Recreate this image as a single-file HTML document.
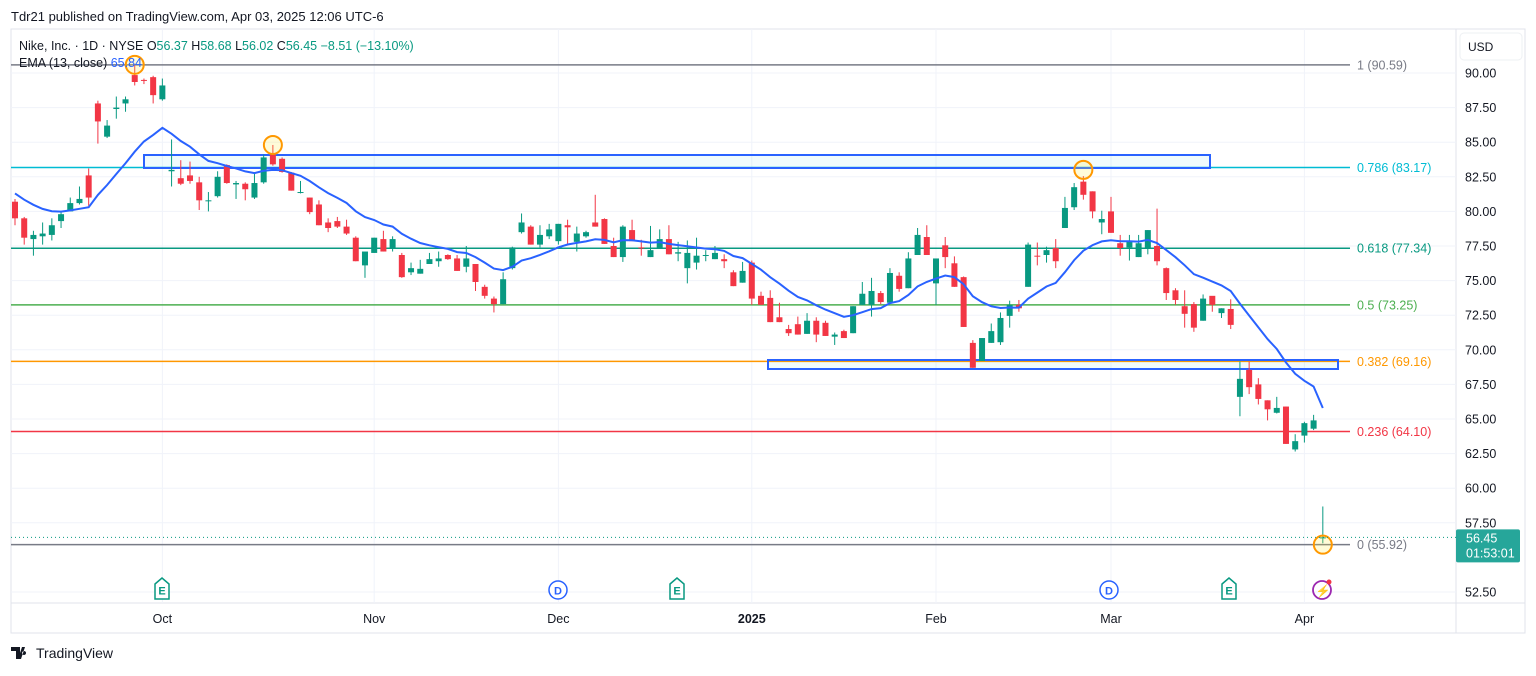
<!DOCTYPE html>
<html><head><meta charset="utf-8">
<style>
body{margin:0;background:#fff;width:1536px;height:671px;overflow:hidden;font-family:"Liberation Sans",sans-serif;}
svg text{font-family:"Liberation Sans",sans-serif;}
</style></head>
<body>
<svg id="chart" width="1536" height="671" viewBox="0 0 1536 671" xmlns="http://www.w3.org/2000/svg">
<text x="11" y="21" font-size="13" fill="#131722">Tdr21 published on TradingView.com, Apr 03, 2025 12:06 UTC-6</text>
<rect x="11" y="29" width="1514" height="604" fill="none" stroke="#e0e3eb"/>
<line x1="1456" y1="29" x2="1456" y2="633" stroke="#e0e3eb"/>
<line x1="11" y1="603" x2="1525" y2="603" stroke="#e0e3eb"/>
<g id="grid"></g>
<g id="fib"></g>
<g id="boxes"></g>
<g id="candles"></g>
<g id="ema"></g>
<g id="marks"></g>
<g id="axis"></g>
<rect x="1460" y="33" width="62" height="27" rx="4" fill="#fff" stroke="#eef0f3"/>
<text x="1468" y="51" font-size="12" fill="#131722">USD</text>
<text x="19" y="50" font-size="12.5" fill="#131722">Nike, Inc. · 1D · NYSE <tspan>O</tspan><tspan fill="#089981">56.37</tspan> H<tspan fill="#089981">58.68</tspan> L<tspan fill="#089981">56.02</tspan> C<tspan fill="#089981">56.45</tspan> <tspan fill="#089981">−8.51 (−13.10%)</tspan></text>
<text x="19" y="67" font-size="12.5" fill="#131722">EMA (13, close) <tspan fill="#2962ff">65.84</tspan></text>
<g>
<path d="M11 647h9v12h-4v-8h-5z M22 647l3 0-4 12h-3z M24 651a2 2 0 1 0 0.1 0z" fill="#131722"/>
<text x="36" y="658" font-size="14" fill="#131722">TradingView</text>
</g>
</svg>
<script>
const opens=[80.7,79.5,78.0,78.2,78.3,79.3,80.0,80.6,82.6,87.8,85.4,87.4,87.8,89.85,89.5,89.7,88.1,82.9,82.4,82.6,82.1,80.75,81.1,83.35,81.95,82.0,81.0,82.1,84.1,83.8,82.8,81.35,81.0,80.5,79.2,79.3,78.9,78.1,76.1,77.0,78.0,77.3,76.85,75.6,75.5,76.2,76.4,76.85,76.6,76.0,76.2,74.55,73.7,73.3,75.9,78.5,78.9,77.6,78.2,77.85,79.0,77.8,78.2,79.2,79.45,77.5,76.7,78.65,77.4,76.7,77.35,78.0,76.95,75.9,76.3,76.8,76.55,76.55,75.6,74.85,76.3,73.9,73.75,72.35,71.5,71.85,71.15,72.1,71.95,70.95,71.35,71.2,73.25,73.25,74.1,73.4,75.35,74.45,76.85,78.15,74.8,77.55,76.25,75.25,70.5,69.2,70.5,70.55,72.45,73.25,74.55,76.8,76.85,77.35,78.8,80.3,82.15,81.45,79.2,80.0,77.7,77.4,76.7,77.35,77.5,75.9,74.3,73.15,73.3,72.1,73.9,72.65,72.95,66.6,68.55,67.5,66.35,65.45,65.9,62.8,63.8,64.3,56.37];
const highs=[80.9,79.6,78.6,79.2,79.5,80.0,81.0,81.8,83.1,88.0,86.6,88.3,88.3,90.59,89.6,89.8,89.6,85.2,83.7,83.6,82.5,81.4,82.9,83.4,82.2,82.1,82.8,84.1,84.8,83.9,82.85,82.2,81.0,80.8,79.5,79.6,79.4,78.2,76.2,78.1,78.6,78.2,77.0,76.3,76.5,77.0,77.1,76.9,76.85,77.5,76.2,74.7,73.85,75.6,77.45,79.85,79.0,79.0,79.1,79.1,79.4,78.9,78.6,81.2,79.5,78.1,79.0,79.4,77.95,78.95,78.7,79.0,77.8,77.9,78.1,77.2,77.5,76.9,75.75,76.35,76.45,74.2,74.3,73.4,71.8,72.4,72.65,72.35,72.1,71.25,71.45,73.15,74.9,75.2,74.25,75.9,75.6,77.05,78.8,79.0,76.6,78.15,76.75,75.3,70.7,70.85,71.9,72.7,73.55,73.6,77.75,77.75,77.45,78.0,81.05,82.05,82.55,81.45,80.05,81.05,78.3,78.3,78.3,78.65,80.2,75.95,74.45,74.3,73.45,74.0,73.55,73.0,73.65,69.15,69.15,67.95,66.35,66.6,65.9,63.9,64.8,65.3,58.68];
const lows=[79.0,77.6,76.8,77.6,77.9,78.8,80.0,80.5,80.4,84.9,85.3,86.7,87.2,89.1,89.2,87.8,88.0,81.8,81.9,82.0,80.1,80.0,81.0,82.0,80.9,80.8,80.9,82.0,83.3,82.8,81.5,81.3,79.8,79.0,78.5,78.8,78.3,76.4,75.2,77.0,77.1,77.1,75.2,75.4,75.5,76.2,76.0,76.5,75.7,75.6,74.25,73.7,72.7,73.3,75.8,78.4,77.6,77.4,78.0,77.6,77.6,77.1,78.1,78.9,77.65,76.7,76.35,77.85,76.8,76.7,77.35,76.9,76.4,74.8,75.8,76.4,76.55,75.9,74.6,74.85,73.25,73.25,72.0,72.0,71.0,71.1,71.15,70.55,71.0,70.35,70.85,71.2,73.25,72.4,73.3,73.3,74.2,74.45,76.85,76.85,73.25,75.9,74.55,71.65,68.7,69.2,70.5,70.35,71.6,72.75,74.55,76.1,76.3,75.9,78.8,80.1,80.85,79.5,78.35,78.45,76.8,76.45,76.7,76.9,76.1,73.6,73.25,71.6,71.3,72.1,72.75,72.3,71.5,65.2,66.8,66.05,64.9,65.4,63.2,62.65,63.3,64.2,56.02];
const closes=[79.5,78.1,78.3,78.4,79.0,79.8,80.6,80.9,81.0,86.5,86.2,87.5,88.1,89.35,89.45,88.4,89.1,83.0,82.0,82.2,80.8,80.8,82.5,82.05,82.05,81.6,82.05,83.9,83.4,82.85,81.5,81.4,79.95,79.0,78.8,78.9,78.4,76.4,77.1,78.1,77.1,78.0,75.25,75.9,75.85,76.55,76.6,76.55,75.7,76.6,74.9,73.9,73.3,75.1,77.4,79.2,77.6,78.3,78.7,79.1,78.85,78.4,78.5,78.9,77.65,76.7,78.9,77.85,77.35,77.2,78.0,76.9,77.05,77.0,76.8,76.85,77.0,76.4,74.6,75.7,73.7,73.25,72.0,72.0,71.2,71.1,72.1,71.1,71.0,71.1,70.85,73.15,74.05,74.25,73.45,75.55,74.4,76.6,78.3,76.85,76.6,76.7,74.55,71.65,68.7,70.85,71.35,72.3,73.25,73.0,77.6,76.75,77.2,76.4,80.25,81.75,81.2,80.0,79.45,78.45,77.35,77.85,77.7,78.65,76.4,74.1,73.6,72.6,71.6,73.7,73.25,73.0,71.8,67.9,67.3,66.45,65.7,65.8,63.2,63.4,64.7,64.9,56.45];
const priceTicks=[90,87.5,85,82.5,80,77.5,75,72.5,70,67.5,65,62.5,60,57.5,52.5];
const monthLabels=["Oct","Nov","Dec","2025","Feb","Mar","Apr"];
const monthIndex=[16,39,59,80,100,119,140];
const fibRatios=["1","0.786","0.618","0.5","0.382","0.236","0"];
const fibPrices=[90.59,83.17,77.34,73.25,69.16,64.10,55.92];
const fibColors=["#787b86","#00bcd4","#089981","#4caf50","#ff9800","#f23645","#787b86"];
const emaSeed=81.6;

const NS="http://www.w3.org/2000/svg";
const y=p=>73+(90-p)*13.84;
const x=i=>15+i*9.21;
function mk(tag,parent,attrs){const e=document.createElementNS(NS,tag);for(const k in attrs)e.setAttribute(k,attrs[k]);document.getElementById(parent).appendChild(e);return e;}

priceTicks.forEach(p=>{
  const g=mk('line','grid',{x1:11,x2:1456,y1:y(p),y2:y(p),stroke:'#f0f3fa'});
  
  
  const t=mk('text','axis',{x:1465,y:y(p)+4.5,'font-size':12.5,fill:'#131722'});
  
  
  t.textContent=p.toFixed(2);
});
monthLabels.forEach((m,k)=>{
  const xx=x(monthIndex[k]);
  const g=mk('line','grid',{x1:xx,x2:xx,y1:29,y2:603,stroke:'#f0f3fa'});
  
  
  const t=mk('text','axis',{x:xx,y:623,'font-size':12.5,fill:'#131722','text-anchor':'middle','font-weight':m==='2025'?'bold':'normal'});
  
  
  t.textContent=m;
});
fibPrices.forEach((p,k)=>{
  const l=mk('line','fib',{x1:11,x2:1350,y1:y(p),y2:y(p),stroke:fibColors[k],'stroke-width':1.5});
  
  
  const t=mk('text','fib',{x:1357,y:y(p)+4.5,'font-size':12.5,fill:fibColors[k]==='#787b86'?'#787b86':fibColors[k]});
  
  
  t.textContent=fibRatios[k]+' ('+p.toFixed(2)+')';
});
// zone boxes
const b1=mk('rect','boxes',{x:144,y:155,width:1066,height:13,fill:'rgba(0,188,212,0.06)',stroke:'#2962ff','stroke-width':2});


const b2=mk('rect','boxes',{x:768,y:360,width:570,height:9,fill:'rgba(0,188,212,0.06)',stroke:'#2962ff','stroke-width':2});



opens.forEach((o,i)=>{
  const c=closes[i],up=c>=o,col=up?'#089981':'#f23645';
  const w=mk('line','candles',{x1:x(i),x2:x(i),y1:y(highs[i]),y2:y(lows[i]),stroke:col,'stroke-width':1});
  
  
  const top=y(Math.max(o,c)),h=Math.max(1,Math.abs(y(o)-y(c)));
  const r=mk('rect','candles',{x:x(i)-3,y:top,width:6,height:h,fill:col});
  
  
});
let e=emaSeed,pts=[];const a=2/14;
closes.forEach((c,i)=>{e=c*a+e*(1-a);pts.push(x(i).toFixed(1)+','+y(e).toFixed(1));});
const pl=mk('polyline','ema',{points:pts.join(' '),fill:'none',stroke:'#2962ff','stroke-width':2});



// pivot circles
[[13,90.59],[28,84.8],[116,83.0],[142,55.92]].forEach(([i,p])=>{
  const c=mk('circle','marks',{cx:x(i),cy:y(p),r:9,fill:'rgba(255,235,59,0.2)',stroke:'#ff9800','stroke-width':2});
  
  
});
// current price line & label
const cp=closes[closes.length-1];
const dl=mk('line','marks',{x1:11,x2:1456,y1:y(cp),y2:y(cp),stroke:'#089981','stroke-dasharray':'1,3'});


const lb=mk('rect','marks',{x:1456,y:y(cp)-8,width:64,height:33,rx:2,fill:'#26a69a'});


const t1=mk('text','marks',{x:1466,y:y(cp)+5,'font-size':12.5,fill:'#fff'});


t1.textContent=cp.toFixed(2);
const t2=mk('text','marks',{x:1466,y:y(cp)+20,'font-size':12.5,fill:'#fff'});


t2.textContent='01:53:01';
// event icons
[[162,'E','#089981'],[558,'D','#2962ff'],[677,'E','#089981'],[1109,'D','#2962ff'],[1229,'E','#089981']].forEach(([xx,l,col])=>{
  let s;
  if(l==='E'){s=mk('path','marks',{d:`M${xx-7} ${584}L${xx} ${578}L${xx+7} ${584}V${599}H${xx-7}Z`,fill:'#fff',stroke:col,'stroke-width':1.5});}
  else{s=mk('circle','marks',{cx:xx,cy:590,r:9,fill:'#fff',stroke:col,'stroke-width':1.5});}
  
  
  const t=mk('text','marks',{x:xx,y:594.5,'font-size':11,'text-anchor':'middle',fill:col,'font-weight':'bold'});
  
  
  t.textContent=l;
});
const ic=mk('circle','marks',{cx:1322,cy:590,r:9,fill:'none',stroke:'#9c27b0','stroke-width':1.8});


const bolt=mk('text','marks',{x:1323,y:595,'font-size':12,'text-anchor':'middle',fill:'#9c27b0'});


bolt.textContent='⚡';
const dot=mk('circle','marks',{cx:1329,cy:582,r:2.5,fill:'#f23645'});


</script>
</body></html>
